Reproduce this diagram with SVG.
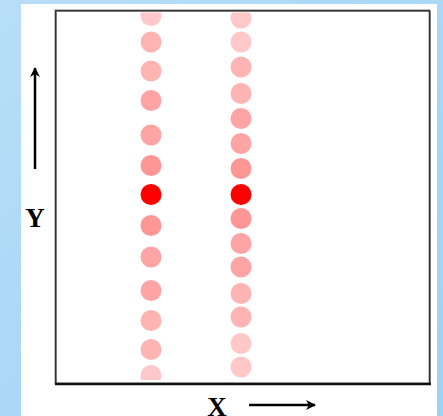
<svg xmlns="http://www.w3.org/2000/svg" width="443" height="416" viewBox="0 0 443 416">
<defs>
<linearGradient id="bg" x1="0" y1="0" x2="1" y2="1">
<stop offset="0" stop-color="#b8def8"/>
<stop offset="1" stop-color="#9cd2f4"/>
</linearGradient>
<clipPath id="plot"><rect x="56" y="12.5" width="374" height="367.5"/></clipPath>
<marker id="ah" viewBox="0 0 10 10" refX="9" refY="5" markerWidth="4" markerHeight="4" orient="auto" markerUnits="strokeWidth">
<path d="M0,0 L10,5 L0,10 L3,5 Z" fill="#000"/>
</marker>
</defs>
<style>
.lbl{font-family:"Liberation Serif","Times New Roman",serif;font-weight:bold;font-size:27px;fill:#000;text-anchor:middle}
.ax{stroke:#000;stroke-width:2.5;fill:none}
.c1{fill:#ffc8c8}.c2{fill:#ffb4b4}.c3{fill:#ffa4a4}.c4{fill:#ff9696}.cr{fill:#ff0000}
</style>
<rect width="443" height="416" fill="url(#bg)"/>
<rect x="21" y="4" width="416" height="412" fill="#fff"/>
<g id="frame">
<rect x="56.5" y="11.5" width="374" height="373" fill="none" stroke="#999" stroke-width="1"/>
<rect x="55.5" y="10.5" width="374" height="373" fill="none" stroke="#333" stroke-width="1.6"/>
<line x1="55" y1="384" x2="431" y2="384" stroke="#111" stroke-width="2.5"/>
</g>
<g id="dots" clip-path="url(#plot)">
<g id="col-left">
<circle class="c1" cx="151" cy="15.5" r="10.5"/>
<circle class="c2" cx="151" cy="42" r="10.5"/>
<circle class="c2" cx="151" cy="71" r="10.5"/>
<circle class="c3" cx="151" cy="100.5" r="10.5"/>
<circle class="c3" cx="151" cy="135" r="10.5"/>
<circle class="c4" cx="151" cy="165.5" r="10.5"/>
<circle class="cr" cx="151" cy="194.5" r="10.5"/>
<circle class="c4" cx="151" cy="225.5" r="10.5"/>
<circle class="c3" cx="151" cy="257" r="10.5"/>
<circle class="c3" cx="151" cy="290.5" r="10.5"/>
<circle class="c2" cx="151" cy="320.5" r="10.5"/>
<circle class="c2" cx="151" cy="349.5" r="10.5"/>
<circle class="c1" cx="151" cy="375.5" r="10.5"/>
</g>
<g id="col-right">
<circle class="c1" cx="241" cy="18" r="10.5"/>
<circle class="c1" cx="241" cy="42" r="10.5"/>
<circle class="c2" cx="241" cy="67" r="10.5"/>
<circle class="c2" cx="241" cy="93.5" r="10.5"/>
<circle class="c3" cx="241" cy="118.5" r="10.5"/>
<circle class="c3" cx="241" cy="143.5" r="10.5"/>
<circle class="c4" cx="241" cy="168.5" r="10.5"/>
<circle class="cr" cx="241" cy="194.5" r="10.5"/>
<circle class="c4" cx="241" cy="218.5" r="10.5"/>
<circle class="c3" cx="241" cy="243.5" r="10.5"/>
<circle class="c3" cx="241" cy="267" r="10.5"/>
<circle class="c2" cx="241" cy="293.5" r="10.5"/>
<circle class="c2" cx="241" cy="317" r="10.5"/>
<circle class="c1" cx="241" cy="343.5" r="10.5"/>
<circle class="c1" cx="241" cy="367" r="10.5"/>
</g>
</g>
<g id="axes">
<line class="ax" x1="35" y1="169" x2="35" y2="68" marker-end="url(#ah)"/>
<line class="ax" x1="249" y1="405" x2="315" y2="405" marker-end="url(#ah)"/>
</g>
<text id="label-y" class="lbl" x="35" y="227">Y</text>
<text id="label-x" class="lbl" x="217" y="416">X</text>
</svg>
